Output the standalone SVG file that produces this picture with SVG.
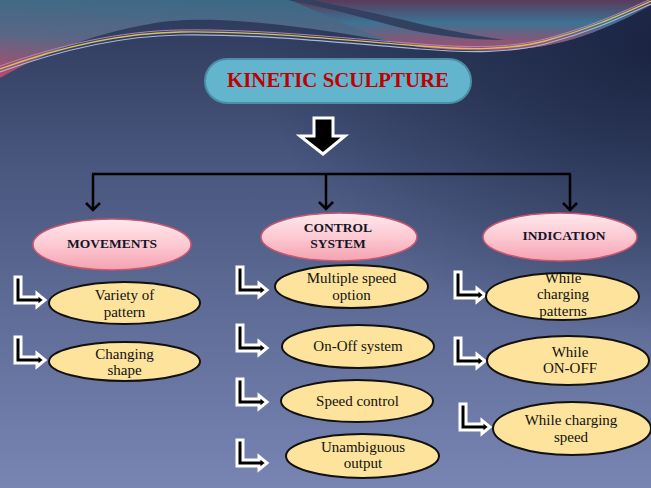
<svg xmlns="http://www.w3.org/2000/svg" xmlns:xlink="http://www.w3.org/1999/xlink" width="651" height="488" viewBox="0 0 651 488">
  <defs>
    <linearGradient id="bg" x1="0" y1="0" x2="0" y2="1">
      <stop offset="0" stop-color="#2c3859"/>
      <stop offset="0.35" stop-color="#4a5880"/>
      <stop offset="1" stop-color="#7885b3"/>
    </linearGradient>
    <radialGradient id="darkTR" cx="1" cy="0.1" r="0.6">
      <stop offset="0" stop-color="#18223f" stop-opacity="0.9"/>
      <stop offset="1" stop-color="#18223f" stop-opacity="0"/>
    </radialGradient>
    <linearGradient id="topL" x1="0.3" y1="0" x2="0" y2="1">
      <stop offset="0" stop-color="#3c6a86"/>
      <stop offset="0.5" stop-color="#5b6686"/>
      <stop offset="1" stop-color="#b84a66"/>
    </linearGradient>
    <linearGradient id="topR" x1="0" y1="0" x2="0" y2="1">
      <stop offset="0" stop-color="#5a3a5a"/>
      <stop offset="0.45" stop-color="#3c7394"/>
      <stop offset="0.75" stop-color="#7d5a7c"/>
      <stop offset="1" stop-color="#a44f6e"/>
    </linearGradient>
    <linearGradient id="pink" x1="0" y1="0" x2="0" y2="1">
      <stop offset="0" stop-color="#ffe9ed"/>
      <stop offset="0.55" stop-color="#fcc6cf"/>
      <stop offset="1" stop-color="#f4a2b1"/>
    </linearGradient>
    <marker id="chev" viewBox="-9 -9 11 18" refX="0" refY="0" markerWidth="11" markerHeight="18" markerUnits="userSpaceOnUse" orient="auto">
      <path d="M-7,-7 L0,0 L-7,7" fill="none" stroke="#000" stroke-width="2.5"/>
    </marker>
    <path id="bent" d="M3,2 H9 V22 H25 V18.5 L33,25 L25,31.5 V28 H3 Z" fill="#000" stroke="#fff" stroke-width="3" stroke-linejoin="miter"/>
  </defs>
  <style>
    .pinkE { fill: url(#pink); stroke: #c9566e; stroke-width: 1.5; }
    .yelE { fill: #fde39b; stroke: #111; stroke-width: 2; }
    .hd { font-family: "Liberation Serif", "DejaVu Serif", serif; font-weight: bold; font-size: 13.5px; fill: #14142a; text-anchor: middle; }
    .tx { font-family: "Liberation Serif", "DejaVu Serif", serif; font-size: 15px; fill: #111; text-anchor: middle; }
    .conn { fill: none; stroke: #000; stroke-width: 2.5; }
  </style>

  <!-- background -->
  <rect width="651" height="488" fill="url(#bg)"/>
  <rect width="651" height="488" fill="url(#darkTR)"/>

  <!-- decorative top waves -->
  <path d="M0,0 H651 V5 C620,22 570,48 505,50 C470,51 445,50 420,47 C380,40 320,28 250,22 C200,18 170,20 150,24 C90,34 40,55 0,78 Z" fill="url(#topL)"/>
  <path d="M290,0 H651 V5 C620,22 570,48 505,50 C470,51 445,50 420,47 C400,44 380,38 360,30 Z" fill="url(#topR)"/>
  <path d="M288,0 H312 C340,6 380,14 420,24 C460,33 485,37 505,40 C470,40 440,36 410,30 C370,20 330,8 288,0 Z" fill="#34405f"/>
  <g fill="none">
    <path d="M0,72 C60,50 120,36 180,35 C260,34 330,42 420,49 C470,53 510,53 545,44 C590,32 620,18 651,4" stroke="#a9b6de" stroke-width="1.2"/>
    <path d="M0,69 C60,47 120,33 180,32 C260,31 330,39 420,46 C470,50 510,50 545,41 C590,29 620,15 651,1" stroke="#d9c25c" stroke-width="1.3"/>
    <path d="M0,66 C60,45 120,31 180,30 C260,29 330,37 420,44 C470,48 510,48 545,39 C590,27 620,13 651,-1" stroke="#b98bb8" stroke-width="0.9"/>
  </g>

  <!-- title -->
  <g id="title">
    <rect x="205" y="59" width="266" height="44" rx="22" ry="22" fill="#62b5cd" stroke="#4a8fa6" stroke-width="2"/>
    <text x="338" y="87" font-family="'Liberation Serif', 'DejaVu Serif', serif" font-weight="bold" font-size="22" fill="#c00000" text-anchor="middle" textLength="222" lengthAdjust="spacingAndGlyphs">KINETIC SCULPTURE</text>
  </g>

  <!-- big down arrow -->
  <g id="bigArrow">
    <polygon points="314,118 333,118 333,136 345,136 323,154 300,136 314,136" fill="#000" stroke="#fff" stroke-width="3" stroke-linejoin="miter"/>
  </g>

  <!-- connectors -->
  <g id="connectors">
    <line class="conn" x1="92" y1="174" x2="571" y2="174"/>
    <line class="conn" x1="93" y1="174" x2="93" y2="210" marker-end="url(#chev)"/>
    <line class="conn" x1="326" y1="174" x2="326" y2="209" marker-end="url(#chev)"/>
    <line class="conn" x1="570" y1="174" x2="570" y2="210" marker-end="url(#chev)"/>
  </g>

  <!-- headings -->
  <g id="movements">
    <ellipse class="pinkE" cx="112" cy="244.5" rx="79" ry="25.5"/>
    <text class="hd" x="112" y="248">MOVEMENTS</text>
  </g>
  <g id="control">
    <ellipse class="pinkE" cx="339" cy="237" rx="78" ry="24"/>
    <text class="hd" x="338" y="232">CONTROL</text>
    <text class="hd" x="338" y="248">SYSTEM</text>
  </g>
  <g id="indication">
    <ellipse class="pinkE" cx="560" cy="237" rx="77" ry="24"/>
    <text class="hd" x="564" y="240">INDICATION</text>
  </g>

  <!-- bent arrow icons -->
  <g id="icons">
    <use xlink:href="#bent" href="#bent" x="12" y="275"/>
    <use xlink:href="#bent" href="#bent" x="12" y="335"/>
    <use xlink:href="#bent" href="#bent" x="234" y="265"/>
    <use xlink:href="#bent" href="#bent" x="234" y="323"/>
    <use xlink:href="#bent" href="#bent" x="234" y="377"/>
    <use xlink:href="#bent" href="#bent" x="234" y="438"/>
    <use xlink:href="#bent" href="#bent" x="452" y="270"/>
    <use xlink:href="#bent" href="#bent" x="452" y="336"/>
    <use xlink:href="#bent" href="#bent" x="457" y="402"/>
  </g>

  <!-- movements items -->
  <g id="variety">
    <ellipse class="yelE" cx="124.5" cy="303" rx="75.5" ry="21"/>
    <text class="tx" x="124.5" y="300">Variety of</text>
    <text class="tx" x="124.5" y="317">pattern</text>
  </g>
  <g id="changing">
    <ellipse class="yelE" cx="124.5" cy="361.5" rx="75.5" ry="19.5"/>
    <text class="tx" x="124.5" y="359">Changing</text>
    <text class="tx" x="124.5" y="375">shape</text>
  </g>

  <!-- control items -->
  <g id="multiple">
    <ellipse class="yelE" cx="351.5" cy="286.5" rx="76.5" ry="21.5"/>
    <text class="tx" x="351.5" y="283">Multiple speed</text>
    <text class="tx" x="351.5" y="300">option</text>
  </g>
  <g id="onoff">
    <ellipse class="yelE" cx="358" cy="346.5" rx="76" ry="21.5"/>
    <text class="tx" x="358" y="351">On-Off system</text>
  </g>
  <g id="speedctl">
    <ellipse class="yelE" cx="357" cy="401" rx="76" ry="21"/>
    <text class="tx" x="357.5" y="406">Speed control</text>
  </g>
  <g id="unambiguous">
    <ellipse class="yelE" cx="362.5" cy="456" rx="76.5" ry="22"/>
    <text class="tx" x="363" y="452">Unambiguous</text>
    <text class="tx" x="363" y="468">output</text>
  </g>

  <!-- indication items -->
  <g id="whilePatterns">
    <ellipse class="yelE" cx="562.5" cy="296.5" rx="76.5" ry="23.5"/>
    <text class="tx" x="563" y="283">While</text>
    <text class="tx" x="563" y="299">charging</text>
    <text class="tx" x="563" y="316">patterns</text>
  </g>
  <g id="whileOnOff">
    <ellipse class="yelE" cx="568" cy="360.5" rx="81" ry="24.5"/>
    <text class="tx" x="570" y="357">While</text>
    <text class="tx" x="570" y="373">ON-OFF</text>
  </g>
  <g id="whileSpeed">
    <ellipse class="yelE" cx="572" cy="428.5" rx="79" ry="26.5"/>
    <text class="tx" x="571" y="425">While charging</text>
    <text class="tx" x="571" y="442">speed</text>
  </g>
</svg>
